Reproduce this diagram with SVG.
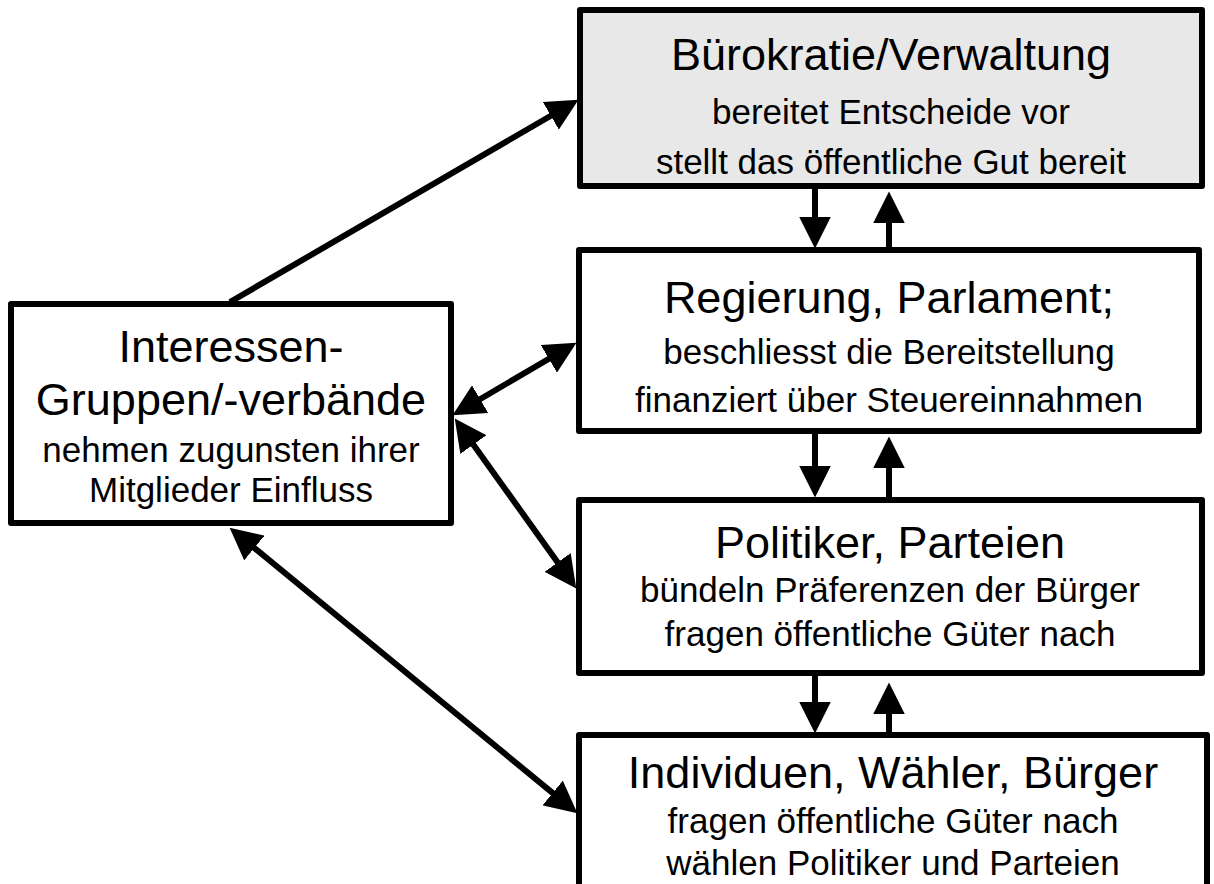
<svg xmlns="http://www.w3.org/2000/svg" width="1214" height="884" viewBox="0 0 1214 884">
<style>
.box{fill:#fff;stroke:#000;stroke-width:6;stroke-linejoin:round}
.gray{fill:#e8e8e8}
.t{font-family:"Liberation Sans",Arial,sans-serif;font-size:45px;text-anchor:middle;fill:#000}
.s{font-family:"Liberation Sans",Arial,sans-serif;font-size:35px;text-anchor:middle;fill:#000}
.c{stroke:#000;stroke-width:6;fill:none}
</style>
<defs>
<marker id="ah" markerUnits="userSpaceOnUse" markerWidth="32" markerHeight="32" viewBox="0 0 30 30" refX="22" refY="15" orient="auto-start-reverse">
<path d="M0,0 L30,15 L0,30 z" fill="#000"/>
</marker>
</defs>
<g id="connectors">
<line class="c" x1="230" y1="302" x2="571.1" y2="104" marker-end="url(#ah)"/>
<line class="c" x1="459.9" y1="411" x2="569.1" y2="347" marker-start="url(#ah)" marker-end="url(#ah)"/>
<line class="c" x1="459.7" y1="425.5" x2="571.3" y2="581.5" marker-start="url(#ah)" marker-end="url(#ah)"/>
<line class="c" x1="236.2" y1="533.1" x2="570.8" y2="807.9" marker-start="url(#ah)" marker-end="url(#ah)"/>
<line class="c" x1="815" y1="186" x2="815" y2="240" marker-end="url(#ah)"/>
<line class="c" x1="889" y1="252" x2="889" y2="200" marker-end="url(#ah)"/>
<line class="c" x1="815" y1="431" x2="815" y2="489" marker-end="url(#ah)"/>
<line class="c" x1="889" y1="500" x2="889" y2="445" marker-end="url(#ah)"/>
<line class="c" x1="815" y1="673" x2="815" y2="725" marker-end="url(#ah)"/>
<line class="c" x1="889" y1="737" x2="889" y2="691" marker-end="url(#ah)"/>
</g>
<g id="buerokratie">
<rect class="box gray" x="580" y="10" width="622" height="176"/>
<text class="t" x="891" y="70">Bürokratie/Verwaltung</text>
<text class="s" x="891" y="124">bereitet Entscheide vor</text>
<text class="s" x="891" y="174">stellt das öffentliche Gut bereit</text>
</g>
<g id="regierung">
<rect class="box" x="579" y="250" width="620" height="181"/>
<text class="t" x="889" y="313">Regierung, Parlament;</text>
<text class="s" x="889" y="364">beschliesst die Bereitstellung</text>
<text class="s" x="889" y="412">finanziert über Steuereinnahmen</text>
</g>
<g id="politiker">
<rect class="box" x="579" y="500" width="623" height="173"/>
<text class="t" x="890" y="558">Politiker, Parteien</text>
<text class="s" x="890" y="602">bündeln Präferenzen der Bürger</text>
<text class="s" x="890" y="646">fragen öffentliche Güter nach</text>
</g>
<g id="individuen">
<rect class="box" x="579" y="735" width="628" height="170"/>
<text class="t" x="893" y="788">Individuen, Wähler, Bürger</text>
<text class="s" x="893" y="833">fragen öffentliche Güter nach</text>
<text class="s" x="893" y="875">wählen Politiker und Parteien</text>
</g>
<g id="interessen">
<rect class="box" x="11" y="304" width="440" height="219"/>
<text class="t" x="231" y="362">Interessen-</text>
<text class="t" x="231" y="415">Gruppen/-verbände</text>
<text class="s" x="231" y="462">nehmen zugunsten ihrer</text>
<text class="s" x="231" y="502">Mitglieder Einfluss</text>
</g>
</svg>
